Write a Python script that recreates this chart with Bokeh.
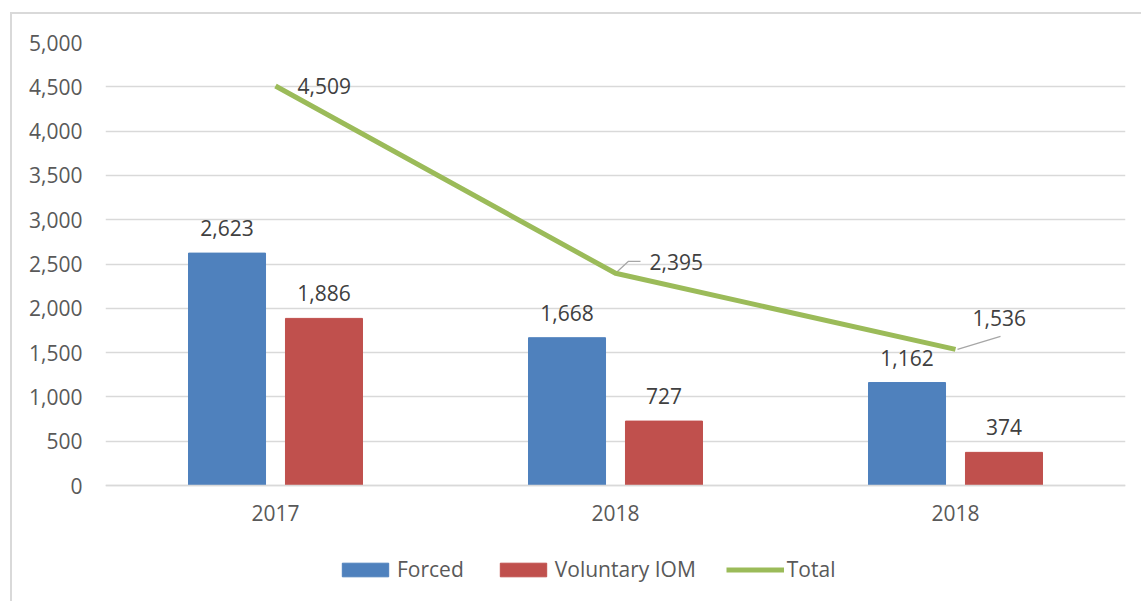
from bokeh.plotting import figure
from bokeh.models import (ColumnDataSource, FixedTicker, NumeralTickFormatter,
                          Legend, LegendItem, Range1d)
from bokeh.core.properties import value
from bokeh.embed import file_html
from bokeh.resources import INLINE

# ---- data ----
categories = ["2017", "2018", "2018"]
forced = [2623, 1668, 1162]
voluntary = [1886, 727, 374]
total = [4509, 2395, 1536]
y_ticks = [0, 500, 1000, 1500, 2000, 2500, 3000, 3500, 4000, 4500, 5000]

# ---- style / layout ----
FONT = "Open Sans"
FS = "21px"
BLUE = "#4F81BD"
RED = "#C0504D"
GREEN = "#9BBB59"
GRID = "#d9d9d9"
AX_TXT = "#595959"
LBL_TXT = "#404040"
W, H = 1141, 601
B_LEFT, B_TOP, B_RIGHT, B_BOTTOM = 105, 42, 16, 1
FRAME_W = W - B_LEFT - B_RIGHT
FRAME_H_ALL = H - B_TOP - B_BOTTOM
PLOT_H = 443                       # px between 0 and 5000
Y_MAX = 5000
Y_MIN = -Y_MAX * (FRAME_H_ALL - PLOT_H) / PLOT_H   # room below the axis
N = len(categories)
PX_X = N / FRAME_W          # data units per px (x)
PX_Y = Y_MAX / PLOT_H       # data units per px (y)
OFF = 0.1426
BAR_W = 0.2265

centers = [i + 0.5 for i in range(N)]

p = figure(width=W, height=H,
           x_range=Range1d(0, N), y_range=Range1d(Y_MIN, Y_MAX),
           output_backend="svg", toolbar_location=None,
           min_border_left=B_LEFT, min_border_top=B_TOP,
           min_border_right=B_RIGHT, min_border_bottom=B_BOTTOM)
p.border_fill_color = None
p.outline_line_color = None
p.styles = {
    "background-image": "linear-gradient(#d9d9d9,#d9d9d9), linear-gradient(#d9d9d9,#d9d9d9)",
    "background-size": "2px 100%, 100% 2px",
    "background-position": "10px 12px, 10px 12px",
    "background-repeat": "no-repeat",
}

src = ColumnDataSource(dict(
    cx=centers,
    bx=[c - OFF for c in centers],
    rx=[c + OFF for c in centers],
    forced=forced, voluntary=voluntary, total=total,
    flab=[f"{v:,}" for v in forced],
    vlab=[f"{v:,}" for v in voluntary],
    tlab=[f"{v:,}" for v in total],
    tx_off=[22, 34, 17],
    ty_off=[0, -11, -31],
))

rb = p.vbar(x="bx", top="forced", bottom=0, width=BAR_W, source=src,
            fill_color=BLUE, line_color=BLUE)
rr = p.vbar(x="rx", top="voluntary", bottom=0, width=BAR_W, source=src,
            fill_color=RED, line_color=RED)

# leader lines for total labels 2 and 3
p.multi_line(
    xs=[[centers[1], centers[1] + 13 * PX_X, centers[1] + 25 * PX_X],
        [centers[2] + 2 * PX_X, centers[2] + 45 * PX_X]],
    ys=[[total[1], total[1] + 12 * PX_Y, total[1] + 12 * PX_Y],
        [total[2], total[2] + 13 * PX_Y]],
    line_color="#a6a6a6", line_width=1.2)

rl = p.line(x="cx", y="total", source=src, line_color=GREEN, line_width=5,
            line_cap="butt", line_join="round")

common = dict(text_font=value(FONT), text_font_size=FS, text_color=LBL_TXT)
p.text(x="bx", y="forced", text="flab", source=src, text_align="center",
       text_baseline="middle", y_offset=-25, **common)
p.text(x="rx", y="voluntary", text="vlab", source=src, text_align="center",
       text_baseline="middle", y_offset=-25, **common)
p.text(x="cx", y="total", text="tlab", source=src, text_align="left",
       text_baseline="middle", x_offset="tx_off", y_offset="ty_off", **common)

# axes
p.yaxis.ticker = FixedTicker(ticks=y_ticks)
p.yaxis.formatter = NumeralTickFormatter(format="0,0")
p.yaxis.axis_line_color = None
p.yaxis.major_tick_line_color = None
p.yaxis.minor_tick_line_color = None
p.yaxis.major_tick_out = 0
p.yaxis.major_label_standoff = 23
p.xaxis.fixed_location = 0
p.xaxis.ticker = FixedTicker(ticks=centers)
p.xaxis.major_label_overrides = {c: lab for c, lab in zip(centers, categories)}
p.xaxis.axis_line_color = GRID
p.xaxis.axis_line_width = 1.5
p.xaxis.major_tick_line_color = None
p.xaxis.minor_tick_line_color = None
p.xaxis.major_tick_out = 0
p.xaxis.major_label_standoff = 19
for ax in (p.xaxis[0], p.yaxis[0]):
    ax.major_label_text_font = FONT
    ax.major_label_text_font_size = FS
    ax.major_label_text_color = AX_TXT

p.xgrid.grid_line_color = None
p.ygrid.grid_line_color = GRID
p.ygrid.grid_line_width = 1.5

legend = Legend(items=[
    LegendItem(label="Forced", renderers=[rb]),
    LegendItem(label="Voluntary IOM", renderers=[rr]),
    LegendItem(label="Total", renderers=[rl]),
], orientation="horizontal", location=(231, 17),
    glyph_width=58, glyph_height=17, label_standoff=3, spacing=30,
    label_text_font=FONT, label_text_font_size=FS, label_text_color=AX_TXT,
    border_line_color=None, background_fill_alpha=0, margin=0, padding=0)
p.add_layout(legend, "center")

open("out.html", "w").write(file_html(p, INLINE))
